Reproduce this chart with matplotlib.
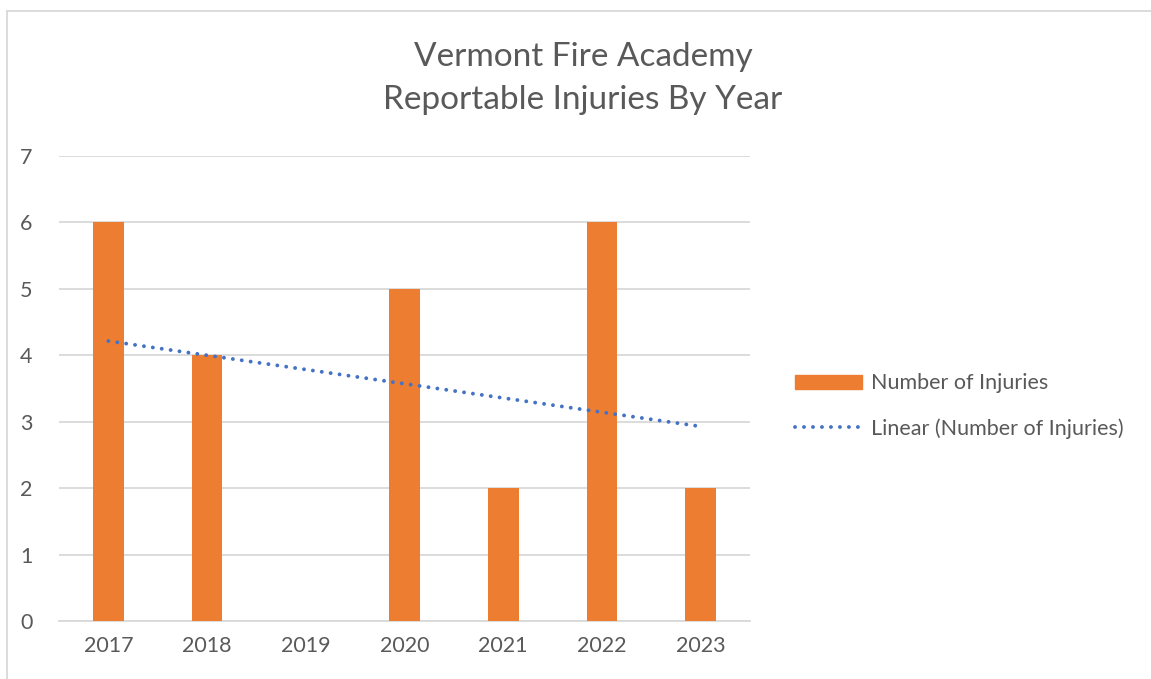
import numpy as np
import matplotlib
matplotlib.use("Agg")
import matplotlib.pyplot as plt
from matplotlib.lines import Line2D
from matplotlib.patches import Patch

plt.rcParams["font.family"] = ["Lato", "DejaVu Sans"]

years = ["2017", "2018", "2019", "2020", "2021", "2022", "2023"]
injuries = [6, 4, 0, 5, 2, 6, 2]

TEXT = "#595959"
ORANGE = "#ED7D31"
BLUE = "#4472C4"
GRID = "#D9D9D9"
DOTS = dict(color=BLUE, lw=2.8, ls=(0, (0.01, 2.3)), dash_capstyle="round")

fig = plt.figure(figsize=(11.51, 6.79), dpi=100)
ax = fig.add_axes([59 / 1151, 58 / 679, 691 / 1151, 465 / 679])

x = np.arange(len(years))
ax.bar(x, injuries, width=0.31, color=ORANGE, zorder=3)

# linear trendline (least squares, like Excel)
slope, intercept = np.polyfit(x, injuries, 1)
ax.plot(x, slope * x + intercept, zorder=4, **DOTS)

ax.set_xlim(-0.5, len(years) - 0.5)
ax.set_ylim(0, 7)
ax.set_yticks(range(8))
ax.set_xticks(x)
ax.set_xticklabels(years)
ax.tick_params(length=0, colors=TEXT, labelsize=15.5)
ax.tick_params(axis="y", pad=19)
ax.tick_params(axis="x", pad=11)
ax.grid(axis="y", color=GRID, lw=1.3, zorder=0)
for s in ("top", "right", "left"):
    ax.spines[s].set_visible(False)
ax.spines["bottom"].set_color(GRID)
ax.spines["bottom"].set_linewidth(1.3)

fig.text(583 / 1151, 1 - 57 / 679, "Vermont Fire Academy", ha="center",
         va="center", fontsize=24, color=TEXT)
fig.text(583 / 1151, 1 - 100 / 679, "Reportable Injuries By Year",
         ha="center", va="center", fontsize=24, color=TEXT)

handles = [Patch(color=ORANGE), Line2D([], [], **DOTS)]
fig.legend(handles, ["Number of Injuries", "Linear (Number of Injuries)"],
           loc="center left", bbox_to_anchor=(776 / 1151, 1 - 406 / 679),
           frameon=False, fontsize=15.5, labelcolor=TEXT,
           handlelength=3.1, handleheight=0.65, handletextpad=0.4,
           labelspacing=1.14)

# chart area border (top and left edges visible)
fig.add_artist(Line2D([7 / 1151, 1], [1 - 11 / 679, 1 - 11 / 679],
                      color=GRID, lw=1.3))
fig.add_artist(Line2D([7 / 1151, 7 / 1151], [0, 1 - 11 / 679],
                      color=GRID, lw=1.3))

fig.savefig("out.png", dpi=100)
